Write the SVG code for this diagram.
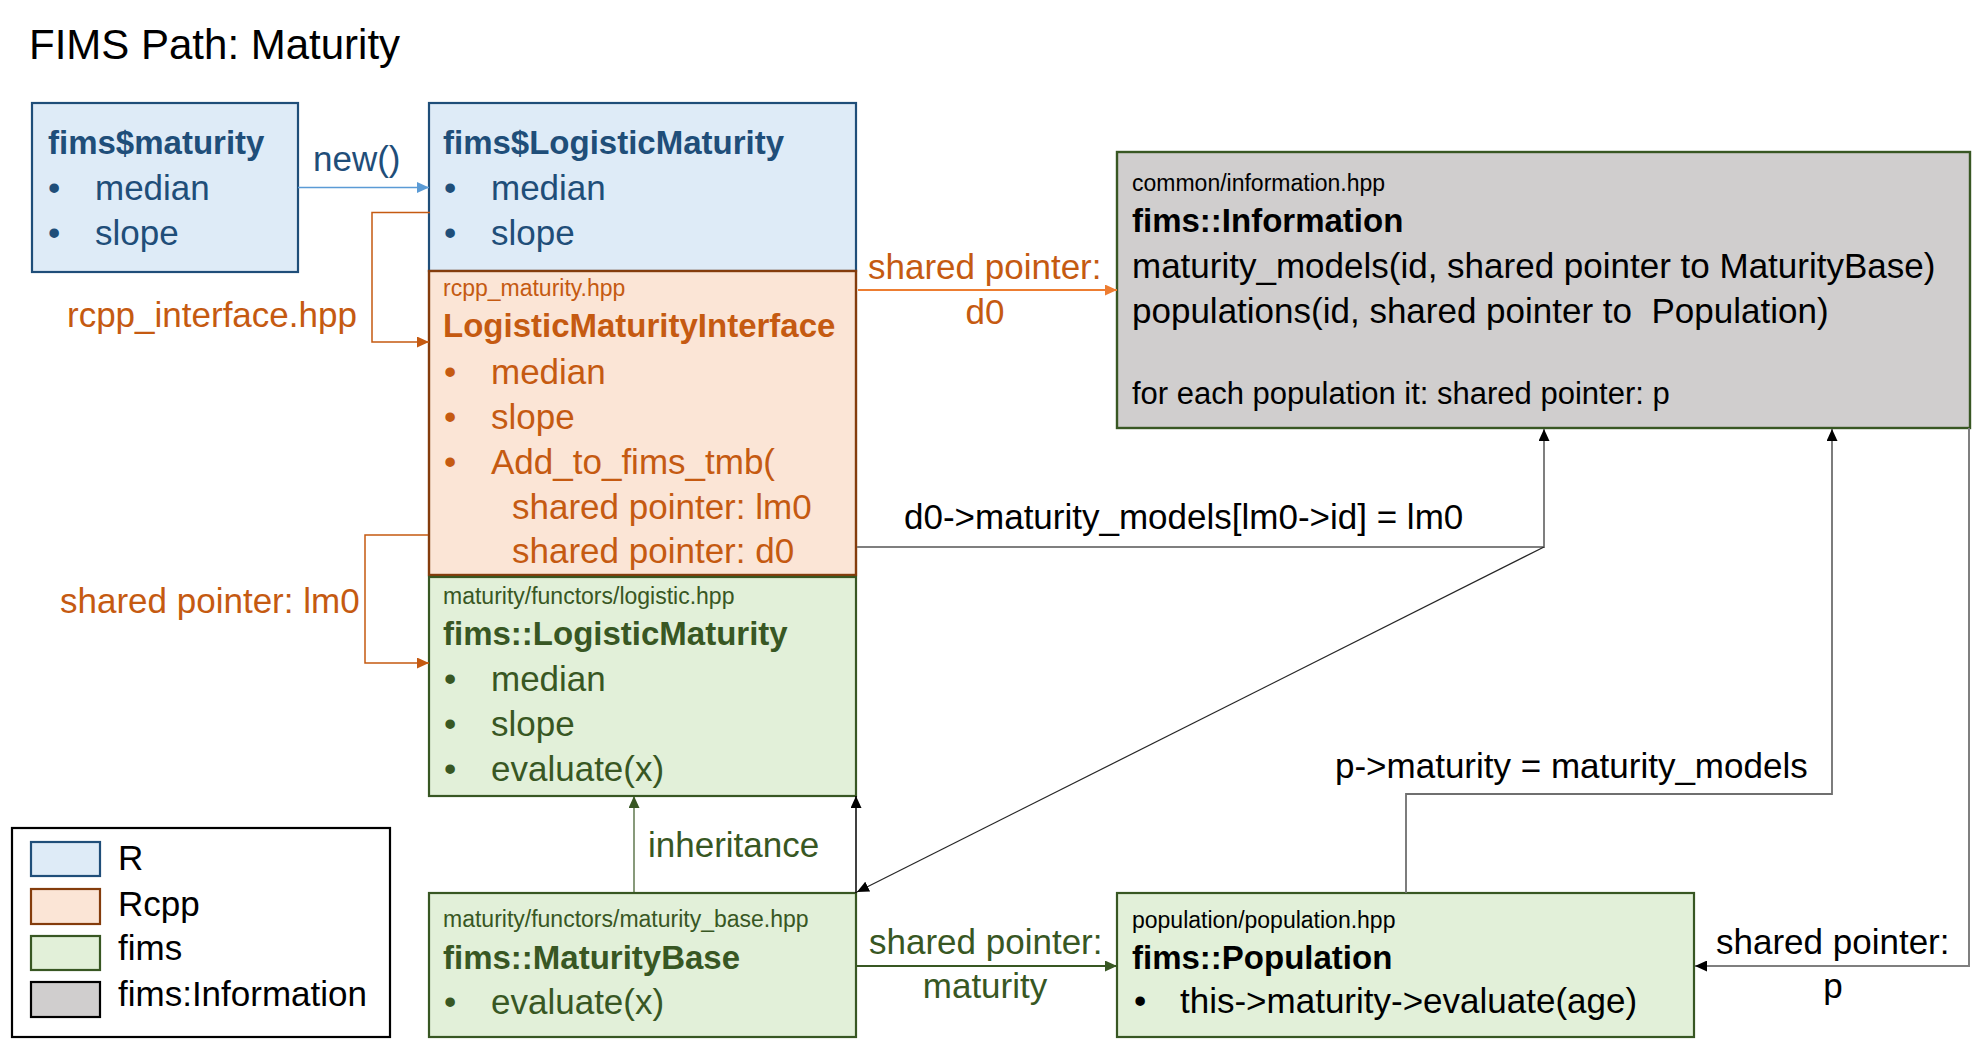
<svg xmlns="http://www.w3.org/2000/svg" width="1980" height="1048" viewBox="0 0 1980 1048">
<defs>
<style>
text{font-family:"Liberation Sans",Arial,sans-serif;font-size:35px}
.b{font-weight:bold;font-size:33px}
.s{font-size:23px}
.r{fill:#1F4E79}.o{fill:#C55A11}.g{fill:#385723}.k{fill:#000}
.mid{text-anchor:middle}
.c{fill:none}
</style>
<marker id="mBlue" viewBox="0 0 12 11" refX="12" refY="5.5" markerWidth="12" markerHeight="11" markerUnits="userSpaceOnUse" orient="auto"><path d="M0,0L12,5.5L0,11z" fill="#5B9BD5"/></marker>
<marker id="mOr" viewBox="0 0 12 11" refX="12" refY="5.5" markerWidth="12" markerHeight="11" markerUnits="userSpaceOnUse" orient="auto"><path d="M0,0L12,5.5L0,11z" fill="#C55A11"/></marker>
<marker id="mOr2" viewBox="0 0 12 11" refX="12" refY="5.5" markerWidth="12" markerHeight="11" markerUnits="userSpaceOnUse" orient="auto"><path d="M0,0L12,5.5L0,11z" fill="#ED7D31"/></marker>
<marker id="mGr" viewBox="0 0 12 11" refX="12" refY="5.5" markerWidth="12" markerHeight="11" markerUnits="userSpaceOnUse" orient="auto"><path d="M0,0L12,5.5L0,11z" fill="#385723"/></marker>
<marker id="mBk" viewBox="0 0 12 11" refX="12" refY="5.5" markerWidth="12" markerHeight="11" markerUnits="userSpaceOnUse" orient="auto"><path d="M0,0L12,5.5L0,11z" fill="#000"/></marker>
</defs>
<rect width="1980" height="1048" fill="#fff"/>
<text x="29" y="59" style="font-size:42px">FIMS Path: Maturity</text>

<g id="node-r-maturity">
<rect x="32" y="103" width="266" height="169" fill="#DEEBF7" stroke="#1F4E79" stroke-width="2.2"/>
<text x="48" y="154" class="b r">fims$maturity</text>
<text x="48" y="200" class="r">•</text><text x="95" y="200" class="r">median</text>
<text x="48" y="245" class="r">•</text><text x="95" y="245" class="r">slope</text>
</g>

<g id="node-r-logistic">
<rect x="429" y="103" width="427" height="168" fill="#DEEBF7" stroke="#1F4E79" stroke-width="2.2"/>
<text x="443" y="154" class="b r">fims$LogisticMaturity</text>
<text x="444" y="200" class="r">•</text><text x="491" y="200" class="r">median</text>
<text x="444" y="245" class="r">•</text><text x="491" y="245" class="r">slope</text>
</g>

<g id="node-rcpp">
<rect x="429" y="271" width="427" height="304" fill="#FBE5D6" stroke="#843C0C" stroke-width="2.4"/>
<text x="443" y="296" class="s o">rcpp_maturity.hpp</text>
<text x="443" y="337" class="b o">LogisticMaturityInterface</text>
<text x="444" y="384" class="o">•</text><text x="491" y="384" class="o">median</text>
<text x="444" y="429" class="o">•</text><text x="491" y="429" class="o">slope</text>
<text x="444" y="474" class="o">•</text><text x="491" y="474" class="o">Add_to_fims_tmb(</text>
<text x="512" y="519" class="o">shared pointer: lm0</text>
<text x="512" y="563" class="o">shared pointer: d0</text>
</g>

<g id="node-fims-logistic">
<rect x="429" y="577" width="427" height="219" fill="#E2F0D9" stroke="#385723" stroke-width="2.2"/>
<text x="443" y="604" class="s g">maturity/functors/logistic.hpp</text>
<text x="443" y="645" class="b g">fims::LogisticMaturity</text>
<text x="444" y="691" class="g">•</text><text x="491" y="691" class="g">median</text>
<text x="444" y="736" class="g">•</text><text x="491" y="736" class="g">slope</text>
<text x="444" y="781" class="g">•</text><text x="491" y="781" class="g">evaluate(x)</text>
</g>

<g id="node-maturity-base">
<rect x="429" y="893" width="427" height="144" fill="#E2F0D9" stroke="#385723" stroke-width="2.2"/>
<text x="443" y="927" class="s g">maturity/functors/maturity_base.hpp</text>
<text x="443" y="969" class="b g">fims::MaturityBase</text>
<text x="444" y="1014" class="g">•</text><text x="491" y="1014" class="g">evaluate(x)</text>
</g>

<g id="node-information">
<rect x="1117" y="152" width="853" height="276" fill="#D0CECE" stroke="#385723" stroke-width="2.4"/>
<text x="1132" y="191" class="s k">common/information.hpp</text>
<text x="1132" y="232" class="b k">fims::Information</text>
<text x="1132" y="278" class="k">maturity_models(id, shared pointer to MaturityBase)</text>
<text x="1132" y="323" class="k" xml:space="preserve">populations(id, shared pointer to  Population)</text>
<text x="1132" y="404" class="k" style="font-size:31px">for each population it: shared pointer: p</text>
</g>

<g id="node-population">
<rect x="1117" y="893" width="577" height="144" fill="#E2F0D9" stroke="#385723" stroke-width="2.2"/>
<text x="1132" y="928" class="s k">population/population.hpp</text>
<text x="1132" y="969" class="b k">fims::Population</text>
<text x="1134" y="1013" class="k">•</text><text x="1180" y="1013" class="k">this-&gt;maturity-&gt;evaluate(age)</text>
</g>

<g id="legend">
<rect x="12" y="828" width="378" height="209" fill="#fff" stroke="#000" stroke-width="2.2"/>
<rect x="31" y="842" width="69" height="34" fill="#DEEBF7" stroke="#1F4E79" stroke-width="2.2"/>
<rect x="31" y="889" width="69" height="35" fill="#FBE5D6" stroke="#843C0C" stroke-width="2.2"/>
<rect x="31" y="936" width="69" height="34" fill="#E2F0D9" stroke="#385723" stroke-width="2.2"/>
<rect x="31" y="982" width="69" height="35" fill="#D0CECE" stroke="#000" stroke-width="2.2"/>
<text x="118" y="870" class="k">R</text>
<text x="118" y="916" class="k">Rcpp</text>
<text x="118" y="960" class="k">fims</text>
<text x="118" y="1006" class="k">fims:Information</text>
</g>

<g id="connectors">
<line x1="298" y1="187.5" x2="429" y2="187.5" stroke="#5B9BD5" stroke-width="1.5" marker-end="url(#mBlue)"/>
<polyline class="c" points="430,212.5 372,212.5 372,342 429,342" stroke="#C55A11" stroke-width="1.5" marker-end="url(#mOr)"/>
<polyline class="c" points="428,535 365,535 365,663 429,663" stroke="#C55A11" stroke-width="1.5" marker-end="url(#mOr)"/>
<line x1="858" y1="290" x2="1117" y2="290" stroke="#ED7D31" stroke-width="1.8" marker-end="url(#mOr2)"/>
<polyline class="c" points="857,547 1544,547 1544,429" stroke="#7F7F7F" stroke-width="2" marker-end="url(#mBk)"/>
<line x1="1544" y1="547" x2="857" y2="892" stroke="#262626" stroke-width="1.2" marker-end="url(#mBk)"/>
<line x1="856" y1="893" x2="856" y2="796" stroke="#000" stroke-width="1.5" marker-end="url(#mBk)"/>
<line x1="634" y1="893" x2="634" y2="796" stroke="#385723" stroke-width="1.2" marker-end="url(#mGr)"/>
<line x1="857" y1="966" x2="1117" y2="966" stroke="#385723" stroke-width="1.8" marker-end="url(#mGr)"/>
<polyline class="c" points="1406,893 1406,794 1832,794 1832,429" stroke="#6F6F6F" stroke-width="1.8" marker-end="url(#mBk)"/>
<polyline class="c" points="1969,428 1969,966 1695,966" stroke="#7F7F7F" stroke-width="2" marker-end="url(#mBk)"/>
<text x="313" y="171" class="r">new()</text>
<text x="67" y="327" class="o">rcpp_interface.hpp</text>
<text x="60" y="613" class="o">shared pointer: lm0</text>
<text x="868" y="279" class="o">shared pointer:</text>
<text x="985" y="324" class="o mid">d0</text>
<text x="904" y="529" class="k">d0-&gt;maturity_models[lm0-&gt;id] = lm0</text>
<text x="648" y="857" class="g">inheritance</text>
<text x="869" y="954" class="g">shared pointer:</text>
<text x="985" y="998" class="g mid">maturity</text>
<text x="1335" y="778" class="k">p-&gt;maturity = maturity_models</text>
<text x="1716" y="954" class="k">shared pointer:</text>
<text x="1833" y="998" class="k mid">p</text>
</g>
</svg>
